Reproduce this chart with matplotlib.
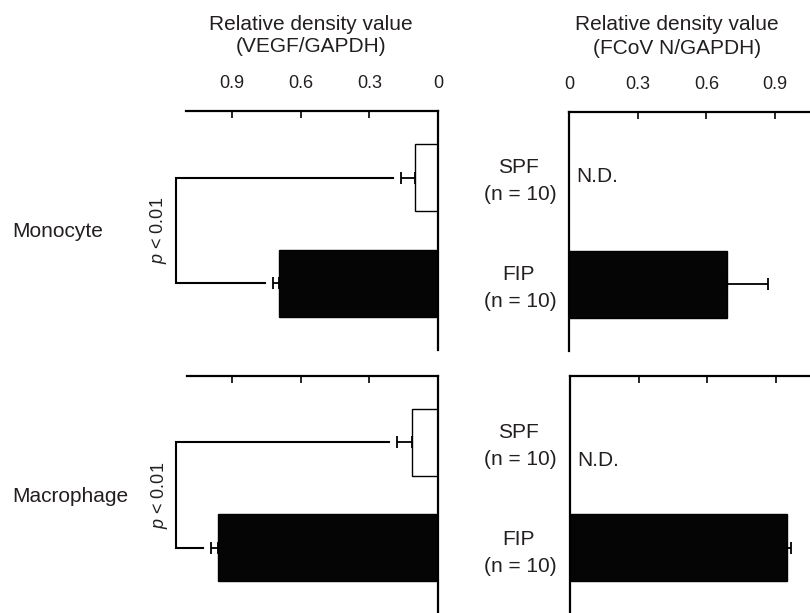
import numpy as np
import matplotlib
matplotlib.use("Agg")
import matplotlib.pyplot as plt

plt.rcParams['font.family'] = ['Liberation Sans', 'DejaVu Sans']
plt.rcParams['mathtext.fontset'] = 'custom'
plt.rcParams['mathtext.rm'] = 'Liberation Sans'
plt.rcParams['mathtext.it'] = 'Liberation Sans:italic'

# Data
cells = ['Monocyte', 'Macrophage']
groups = ['SPF', 'FIP']
group_n = ['(n = 10)', '(n = 10)']

vegf_mean = [[0.10, 0.694], [0.115, 0.964]]
vegf_err = [[0.063, 0.026], [0.064, 0.029]]

# SPF not detected for FCoV N
fcov_fip_mean = [0.691, 0.946]
fcov_fip_err = [0.179, 0.018]

vegf_ticks = [0.9, 0.6, 0.3, 0]
fcov_ticks = [0, 0.3, 0.6, 0.9]
tick_labels_vegf = ['0.9', '0.6', '0.3', '0']
tick_labels_fcov = ['0', '0.3', '0.6', '0.9']

W, H = 810, 613
TXT = '#231f20'

def px(x0, y0, x1, y1):
    return [x0 / W, 1 - y1 / H, (x1 - x0) / W, (y1 - y0) / H]

fig = plt.figure(figsize=(W / 100, H / 100), dpi=100)

left_boxes = [px(186, 111, 438, 350), px(186.5, 376, 438, 614)]
right_boxes = [px(569, 112, 569 + 1.1 * 229, 351), px(570, 376, 570 + 1.1 * 229, 614)]
nd_y = [-0.02, 0.17]

ypos = np.arange(len(groups))
bar_h = 0.63

for i in range(len(cells)):
    # left: VEGF, axis reversed
    ax = fig.add_axes(left_boxes[i])
    ax.barh(ypos, vegf_mean[i], height=bar_h, color=['white', '#050505'],
            edgecolor='black', linewidth=1.0)
    ax.errorbar(vegf_mean[i], ypos, xerr=[np.zeros(2), vegf_err[i]], fmt='none',
                ecolor='black', elinewidth=1.3, capsize=4, capthick=1.3)
    ax.set_xlim(1.1, 0)
    ax.set_ylim(1.63, -0.63)
    for s in ['left', 'bottom']:
        ax.spines[s].set_visible(False)
    for s in ['top', 'right']:
        ax.spines[s].set_linewidth(1.6)
    ax.xaxis.tick_top()
    ax.set_xticks(vegf_ticks)
    ax.tick_params(axis='x', direction='in', length=5, width=1.2, pad=14,
                   labelsize=13, labelcolor=TXT)
    if i == 0:
        ax.set_xticklabels(tick_labels_vegf)
    else:
        ax.set_xticklabels([])
    ax.set_yticks([])

    # significance bracket
    bx = 1.145
    starts = [vegf_mean[i][k] + vegf_err[i][k] + 0.035 for k in range(2)]
    ax.plot([starts[0], bx, bx, starts[1]], [ypos[0], ypos[0], ypos[1], ypos[1]],
            color='black', lw=1.5, clip_on=False, solid_joinstyle='miter')
    ax.text(bx + 0.075, 0.5, r'$p$ < 0.01', rotation=90, ha='center', va='center',
            fontsize=13, color=TXT, clip_on=False)

    # right: FCoV N
    ax2 = fig.add_axes(right_boxes[i])
    ax2.barh(ypos[1], fcov_fip_mean[i], height=bar_h, color='#050505',
             edgecolor='black', linewidth=1.0)
    ax2.errorbar(fcov_fip_mean[i], ypos[1], xerr=[[0], [fcov_fip_err[i]]], fmt='none',
                 ecolor='black', elinewidth=1.3, capsize=4, capthick=1.3)
    ax2.text(0.03, nd_y[i], 'N.D.', ha='left', va='center', fontsize=15, color=TXT)
    ax2.set_xlim(0, 1.1)
    ax2.set_ylim(1.63, -0.63)
    for s in ['right', 'bottom']:
        ax2.spines[s].set_visible(False)
    for s in ['top', 'left']:
        ax2.spines[s].set_linewidth(1.6)
    ax2.xaxis.tick_top()
    ax2.set_xticks(fcov_ticks)
    ax2.tick_params(axis='x', direction='in', length=5, width=1.2, pad=14,
                    labelsize=13, labelcolor=TXT)
    if i == 0:
        ax2.set_xticklabels(tick_labels_fcov)
    else:
        ax2.set_xticklabels([])
    ax2.set_yticks([])

# group labels between panels
label_base = [[173, 200, 280, 307], [438, 465, 545, 572]]
for i in range(len(cells)):
    yb = label_base[i]
    fig.text(518 / W, 1 - yb[0] / H, groups[0], ha='center', va='baseline', fontsize=15, color=TXT)
    fig.text(520 / W, 1 - yb[1] / H, group_n[0], ha='center', va='baseline', fontsize=15, color=TXT)
    fig.text(518 / W, 1 - yb[2] / H, groups[1], ha='center', va='baseline', fontsize=15, color=TXT)
    fig.text(520 / W, 1 - yb[3] / H, group_n[1], ha='center', va='baseline', fontsize=15, color=TXT)

# row labels
fig.text(12 / W, 1 - 236.7 / H, cells[0], ha='left', va='baseline', fontsize=15, color=TXT)
fig.text(12 / W, 1 - 502.3 / H, cells[1], ha='left', va='baseline', fontsize=15, color=TXT)

# axis titles
fig.text(311 / W, 1 - 24 / H, 'Relative density value', ha='center', va='center', fontsize=15, color=TXT)
fig.text(311 / W, 1 - 47 / H, '(VEGF/GAPDH)', ha='center', va='center', fontsize=15, color=TXT)
fig.text(677 / W, 1 - 25 / H, 'Relative density value', ha='center', va='center', fontsize=15, color=TXT)
fig.text(677 / W, 1 - 49 / H, '(FCoV N/GAPDH)', ha='center', va='center', fontsize=15, color=TXT)

fig.savefig('out.png', dpi=100)
